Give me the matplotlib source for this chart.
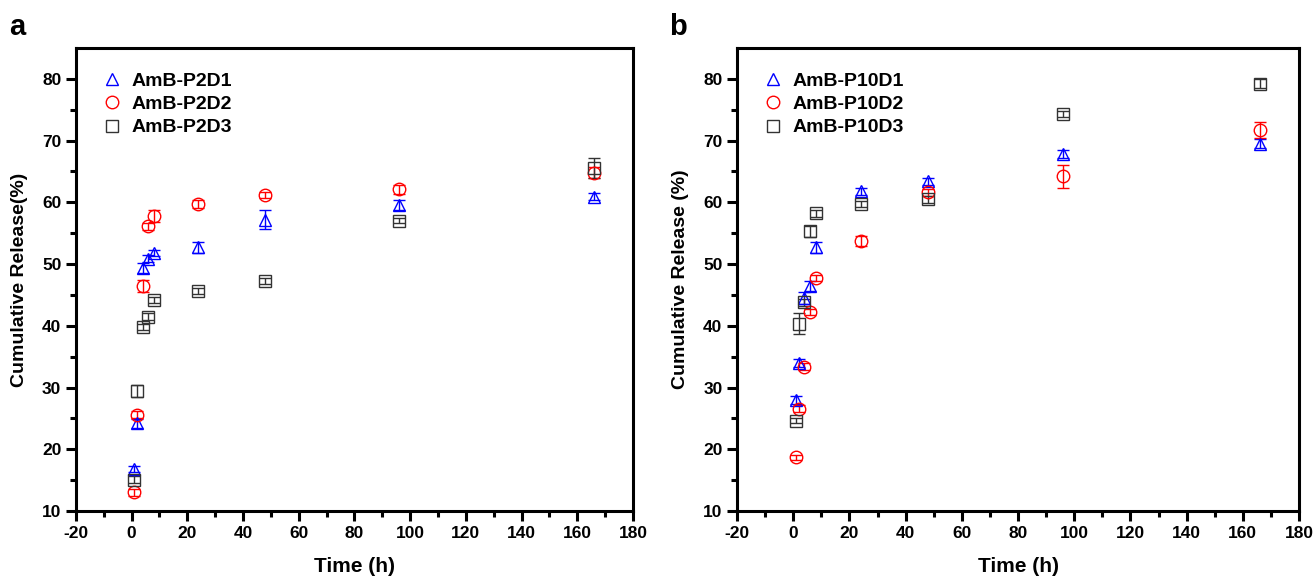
import matplotlib.pyplot as plt
import numpy as np

plt.rcParams['font.family'] = ['Liberation Sans', 'DejaVu Sans']
plt.rcParams['font.weight'] = 'bold'
plt.rcParams['axes.unicode_minus'] = False

# sampling times (h)
time = [1, 2, 4, 6, 8, 24, 48, 96, 166]

# panel a
labels_a = ['AmB-P2D1', 'AmB-P2D2', 'AmB-P2D3']
p2d1 = [16.8, 24.2, 49.3, 50.9, 51.8, 52.7, 57.2, 59.6, 60.9]
p2d1_err = [0.5, 0.7, 0.8, 0.6, 0.5, 0.9, 1.6, 0.8, 0.6]
p2d2 = [13.0, 25.6, 46.4, 56.1, 57.8, 59.7, 61.2, 62.1, 64.8]
p2d2_err = [0.6, 0.6, 1.0, 0.6, 1.0, 0.6, 0.5, 0.7, 0.9]
p2d3 = [15.1, 29.4, 39.8, 41.5, 44.2, 45.6, 47.3, 57.0, 65.5]
p2d3_err = [0.5, 1.0, 0.5, 0.6, 0.5, 0.5, 0.5, 0.4, 1.6]

# panel b
labels_b = ['AmB-P10D1', 'AmB-P10D2', 'AmB-P10D3']
p10d1 = [28.0, 34.0, 44.5, 46.4, 52.7, 61.8, 63.4, 67.8, 69.5]
p10d1_err = [0.6, 0.6, 0.9, 0.8, 0.9, 0.6, 0.6, 0.7, 0.7]
p10d2 = [18.7, 26.6, 33.4, 42.2, 47.8, 53.7, 61.6, 64.2, 71.7]
p10d2_err = [0.4, 0.6, 0.5, 0.5, 0.5, 0.8, 0.6, 1.9, 1.3]
p10d3 = [24.6, 40.3, 43.8, 55.3, 58.2, 59.7, 60.5, 74.3, 79.2]
p10d3_err = [0.4, 1.7, 0.6, 0.9, 0.5, 0.5, 0.6, 0.5, 0.7]

colors = ['#0000ff', '#ff0000', '#333333']
markers = ['^', 'o', 's']

fig = plt.figure(figsize=(13.14, 5.81), dpi=100)
ax1 = fig.add_axes([0.0578, 0.1205, 0.4239, 0.7969])
ax2 = fig.add_axes([0.5609, 0.1205, 0.4277, 0.7969])

def draw(ax, series, errs, labels, ylabel):
    handles = []
    for y, e, lab, c, m in zip(series, errs, labels, colors, markers):
        cont = ax.errorbar(time, y, yerr=e, fmt=m, mfc='none', mec=c, ecolor=c,
                           ms=9, mew=1.0, elinewidth=1.0, capsize=4, capthick=1.0,
                           label=lab)
        handles.append(cont.lines[0])
    ax.set_xlim(-20, 180)
    ax.set_ylim(10, 85)
    ax.set_xticks(np.arange(-20, 181, 20))
    ax.set_xticks(np.arange(-10, 180, 20), minor=True)
    ax.set_yticks(np.arange(10, 81, 10))
    ax.set_yticks(np.arange(15, 85, 10), minor=True)
    ax.tick_params(which='major', direction='out', length=7, width=2.2,
                   labelsize=12.5, top=False, right=False)
    ax.tick_params(which='minor', direction='out', length=4, width=2.2,
                   top=False, right=False)
    for t in ax.get_xticklabels() + ax.get_yticklabels():
        t.set_fontweight('bold')
    for s in ax.spines.values():
        s.set_linewidth(2.2)
    ax.set_xlabel('Time (h)', fontsize=15, fontweight='bold', labelpad=12)
    ax.set_ylabel(ylabel, fontsize=14, fontweight='bold', labelpad=10)
    leg = ax.legend(handles, labels, loc='upper left', bbox_to_anchor=(0.03, 0.965),
                    frameon=False, fontsize=14, handletextpad=0.4,
                    borderaxespad=0, labelspacing=0.3, handlelength=1.2)
    for t in leg.get_texts():
        t.set_fontweight('bold')

draw(ax1, [p2d1, p2d2, p2d3], [p2d1_err, p2d2_err, p2d3_err], labels_a,
     'Cumulative Release(%)')
draw(ax2, [p10d1, p10d2, p10d3], [p10d1_err, p10d2_err, p10d3_err], labels_b,
     'Cumulative Release (%)')

fig.text(17 / 1314, 0.953, 'a', fontsize=21, fontweight='bold', ha='center', va='center')
fig.text(678 / 1314, 0.953, 'b', fontsize=21, fontweight='bold', ha='center', va='center')

plt.savefig('out.png', dpi=100)
